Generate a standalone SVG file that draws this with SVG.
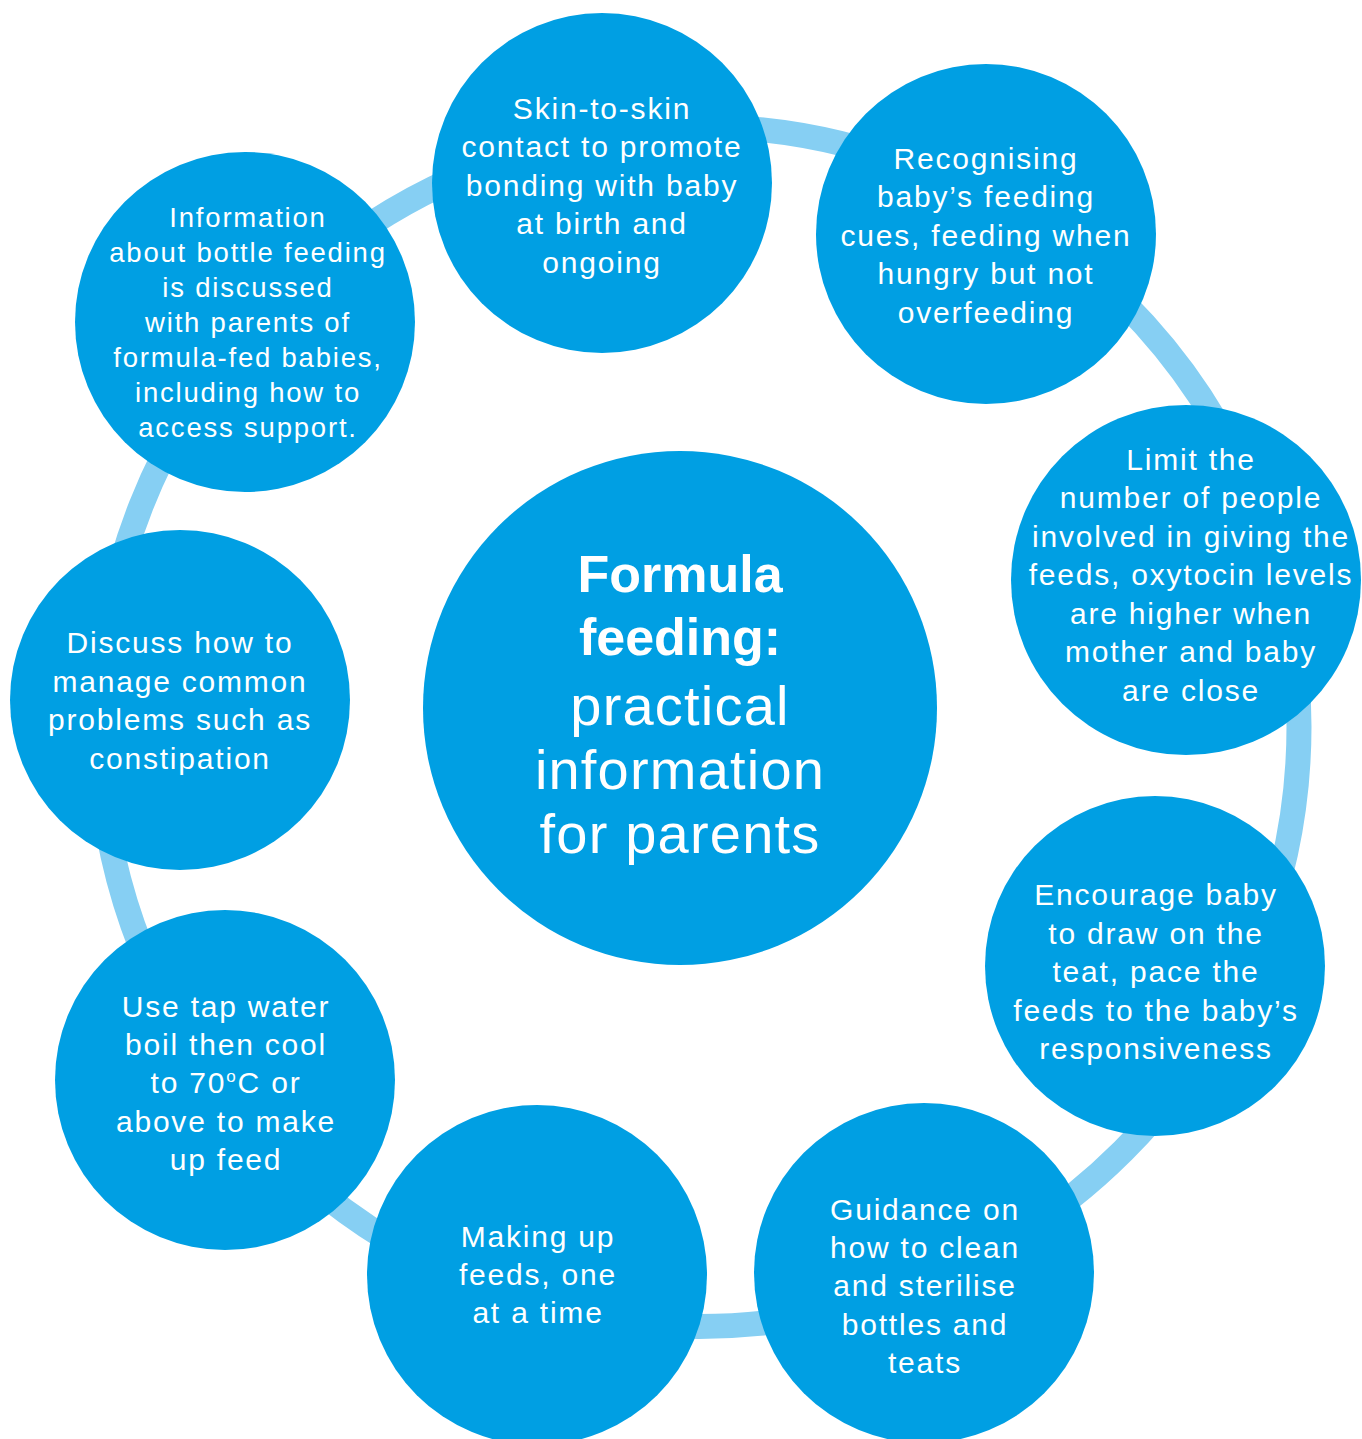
<svg xmlns="http://www.w3.org/2000/svg" width="1362" height="1439" viewBox="0 0 1362 1439">
<style>
.node{fill:#009FE3}
.ring{fill:none;stroke:#86CFF3;stroke-width:25}
.t{font-family:"Liberation Sans",Arial,sans-serif;font-size:30px;letter-spacing:1.8px;fill:#fff;text-anchor:middle}
.s{font-size:27.5px;letter-spacing:1.8px}
.c{font-family:"Liberation Sans",Arial,sans-serif;fill:#fff;text-anchor:middle}
.b{font-weight:bold;font-size:52px}
.r{font-size:56px;letter-spacing:1.2px}
</style>
<rect width="1362" height="1439" fill="#fff"/>
<g id="connectors">
<circle class="ring" cx="699" cy="726.5" r="600"/>
</g>
<g id="center">
<circle class="node" cx="680" cy="708" r="257"/>
<text class="c b" x="680" y="592">Formula</text>
<text class="c b" x="680" y="655">feeding:</text>
<text class="c r" x="680" y="725">practical</text>
<text class="c r" x="680" y="789">information</text>
<text class="c r" x="680" y="853">for parents</text>
</g>
<g id="skin">
<circle class="node" cx="602" cy="183" r="170"/>
<text class="t" x="602" y="119">Skin-to-skin</text>
<text class="t" x="602" y="157">contact to promote</text>
<text class="t" x="602" y="196">bonding with baby</text>
<text class="t" x="602" y="234">at birth and</text>
<text class="t" x="602" y="273">ongoing</text>
</g>
<g id="recognising">
<circle class="node" cx="986" cy="234" r="170"/>
<text class="t" x="986" y="169">Recognising</text>
<text class="t" x="986" y="207">baby’s feeding</text>
<text class="t" x="986" y="246">cues, feeding when</text>
<text class="t" x="986" y="284">hungry but not</text>
<text class="t" x="986" y="323">overfeeding</text>
</g>
<g id="limit">
<circle class="node" cx="1186" cy="580" r="175"/>
<text class="t" x="1191" y="470">Limit the</text>
<text class="t" x="1191" y="508">number of people</text>
<text class="t" x="1191" y="547">involved in giving the</text>
<text class="t" x="1191" y="585">feeds, oxytocin levels</text>
<text class="t" x="1191" y="624">are higher when</text>
<text class="t" x="1191" y="662">mother and baby</text>
<text class="t" x="1191" y="701">are close</text>
</g>
<g id="encourage">
<circle class="node" cx="1155" cy="966" r="170"/>
<text class="t" x="1156" y="905">Encourage baby</text>
<text class="t" x="1156" y="944">to draw on the</text>
<text class="t" x="1156" y="982">teat, pace the</text>
<text class="t" x="1156" y="1021">feeds to the baby’s</text>
<text class="t" x="1156" y="1059">responsiveness</text>
</g>
<g id="guidance">
<circle class="node" cx="924" cy="1273" r="170"/>
<text class="t" x="925" y="1220">Guidance on</text>
<text class="t" x="925" y="1258">how to clean</text>
<text class="t" x="925" y="1296">and sterilise</text>
<text class="t" x="925" y="1335">bottles and</text>
<text class="t" x="925" y="1373">teats</text>
</g>
<g id="making">
<circle class="node" cx="537" cy="1275" r="170"/>
<text class="t" x="538" y="1247">Making up</text>
<text class="t" x="538" y="1285">feeds, one</text>
<text class="t" x="538" y="1323">at a time</text>
</g>
<g id="tapwater">
<circle class="node" cx="225" cy="1080" r="170"/>
<text class="t" x="226" y="1017">Use tap water</text>
<text class="t" x="226" y="1055">boil then cool</text>
<text class="t" x="226" y="1093">to 70<tspan font-size="17" dy="-11">o</tspan><tspan dy="11">C or</tspan></text>
<text class="t" x="226" y="1132">above to make</text>
<text class="t" x="226" y="1170">up feed</text>
</g>
<g id="discuss">
<circle class="node" cx="180" cy="700" r="170"/>
<text class="t" x="180" y="653">Discuss how to</text>
<text class="t" x="180" y="692">manage common</text>
<text class="t" x="180" y="730">problems such as</text>
<text class="t" x="180" y="769">constipation</text>
</g>
<g id="info">
<circle class="node" cx="245" cy="322" r="170"/>
<text class="t s" x="248" y="227">Information</text>
<text class="t s" x="248" y="262">about bottle feeding</text>
<text class="t s" x="248" y="297">is discussed</text>
<text class="t s" x="248" y="332">with parents of</text>
<text class="t s" x="248" y="367">formula-fed babies,</text>
<text class="t s" x="248" y="402">including how to</text>
<text class="t s" x="248" y="437">access support.</text>
</g>
</svg>
